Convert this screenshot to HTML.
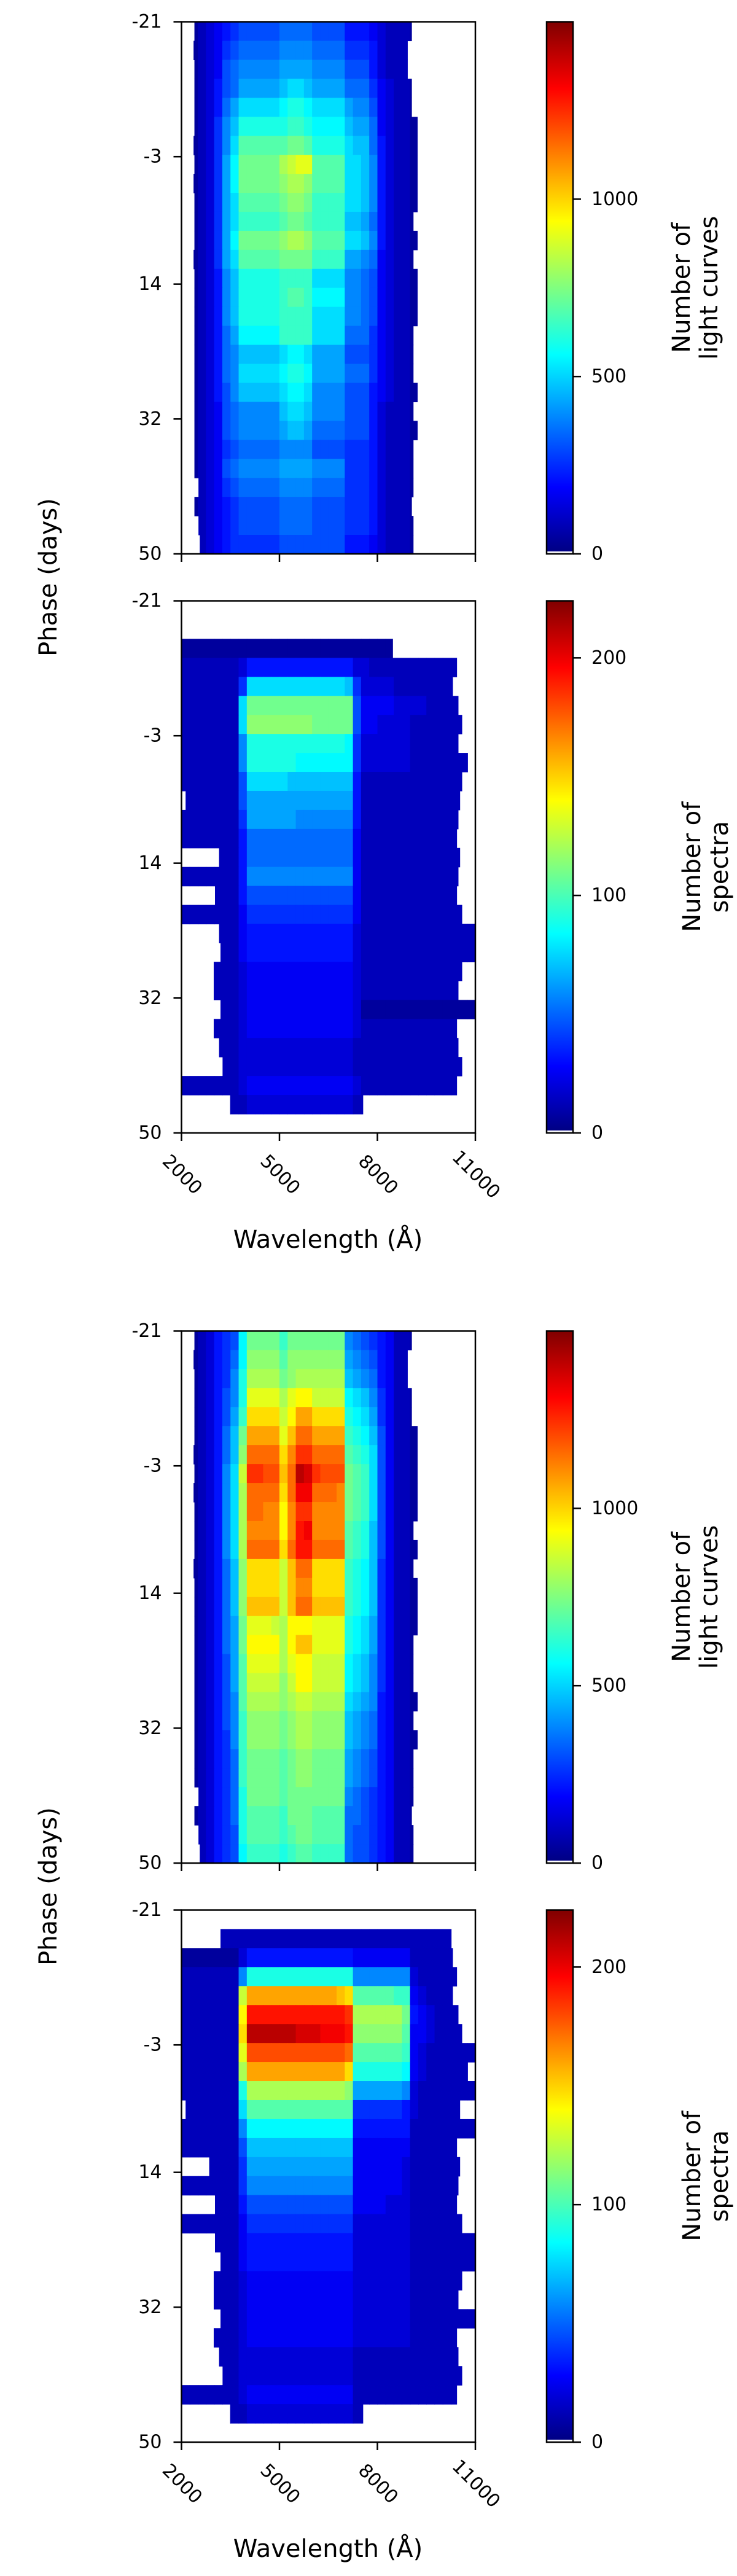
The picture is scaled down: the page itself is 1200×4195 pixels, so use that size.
<!DOCTYPE html>
<html><head><meta charset="utf-8"><style>
html,body{margin:0;padding:0;background:#fff;}
svg{display:block;font-family:"DejaVu Sans","Liberation Sans",sans-serif;}
</style></head><body>
<svg id="fig" width="1200" height="4195" viewBox="0 0 1200 4195" xmlns="http://www.w3.org/2000/svg"></svg>
<script>
// ---------------- DATA ----------------
const phaseTicks = [-21, -3, 14, 32, 50];
const waveTicks = [2000, 5000, 8000, 11000];
const lcCbTicks = [0, 500, 1000];
const spCbTicks = [0, 100, 200];
const lcVmax = 1500;
const spVmax = 224;
const binWidthA = 250; // Å per column
const nRows = 28;
// level codes: base-36 char per 250 Å column starting at 2000 Å; count = level/35*vmax; '.' = empty
// light curves, top figure: [c0-6, c7-11, c12-15, c16-19, c20-23, c24-28]
const lcRowsA = [
[".123456","77777","8888","7777","5554","32221"],
[".123467","88888","9999","8888","6665","32221"],
[".123478","99999","aaaa","9999","7775","32221"],
[".123578","aaaaa","bccb","aaaa","8886","43221"],
[".12358a","ccccc","deed","cccc","a997","43221"],
[".12369b","eeeee","effe","dddd","baa8","43221"],
[".12369c","ggggg","ghhg","eeee","cbb8","53221"],
[".1236ad","hhhhh","jkll","gggg","ccb9","53221"],
[".1236ad","hhhhh","ijji","gggg","ccb9","53221"],
[".1236ac","ggggg","hiih","ffff","ccb9","53221"],
[".1236ac","fffff","ghhg","ffff","bba8","53221"],
[".1236ad","hhhhh","ijji","gggg","ccb9","53221"],
[".1236ac","ggggg","hhhh","ffff","aa98","43221"],
[".12359b","eeeee","ffff","cccc","9987","43221"],
[".12359b","eeeee","fggf","dddd","9987","43221"],
[".12359b","eeeee","ffff","cccc","9987","43221"],
[".12358a","ddddd","ffff","cccc","8886","43221"],
[".123589","bbbbb","cddc","aaaa","7776","43221"],
[".123589","ccccc","deed","aaaa","8886","43221"],
[".123579","bbbbb","cddc","9999","7775","43221"],
[".123478","99999","bccb","9999","7775","32221"],
[".123478","99999","abba","8888","7775","32221"],
[".123467","88888","9999","7777","6665","32221"],
[".123478","99999","aaaa","9999","6665","32221"],
[".123467","88888","9999","8888","6665","32221"],
[".123456","77777","8888","7777","6665","32221"],
[".123456","77777","8888","7777","6665","32221"],
[".123456","66666","7777","7777","5554","32221"]
];
const lcLoA = [2396,2370,2396,2396,2396,2396,2370,2396,2370,2396,2396,2396,2370,2396,2396,2396,2396,2396,2396,2396,2396,2396,2396,2396,2520,2396,2520,2560];
const lcHiA = [9044,8918,8918,9044,9044,9220,9220,9220,9220,9220,9094,9220,9094,9220,9220,9220,9094,9094,9094,9220,9094,9220,9094,9094,9094,9044,9094,9094];

// spectra, top figure: [c0-6, c7, c8-20, c21, c22-35]
const spRowsA = [
[""],
[""],
["1111111","1","1111111111111","1","11111111111111"],
["2222222","3","5555555555555","3","32222222222222"],
["2222222","6","ccccccccccccb","6","33332222222222"],
["2222222","c","hhhhhhhhhhhhh","7","44443333222222"],
["2222222","c","iiiiiiiihhhhh","7","44333322222222"],
["2222222","9","eeeeeeeeeeeed","6","33333322222222"],
["2222222","9","eeeeeeddddddd","6","33333322222222"],
["2222222","7","cccccbbbbbbbb","5","22222222222222"],
["2222222","7","aaaaaaaaaaaaa","5","22222222222222"],
["2222222","6","aaaaaa9999999","5","22222222222222"],
["2222222","5","8888888888888","4","22222222222222"],
["2222222","5","8888888888888","4","22222222222222"],
["2222222","5","9999999999999","4","22222222222222"],
["2222222","5","7777777777777","4","22222222222222"],
["2222222","4","6666666666666","4","22222222222222"],
["2222222","4","5555555555555","3","22222222222222"],
["2222222","4","5555555555555","3","22222222222222"],
["2222222","3","4444444444444","3","22222222222222"],
["2222222","3","4444444444444","3","22222222222222"],
["2222222","3","4444444444444","3","11111111111111"],
["2222222","3","4444444444444","3","22222222222222"],
["2222222","3","3333333333333","2","22222222222222"],
["2222222","3","3333333333333","2","22222222222222"],
["2222222","3","4444444444444","3","22222222222222"],
["2222222","2","3333333333333","2","22222222222222"],
[""]
];
const spLoA = [0,0,2000,2000,2000,2000,2000,2000,2000,2000,2126,2000,2000,3151,2000,3025,2000,3151,3195,2987,2987,3195,2987,3151,3258,2000,3490,0];
const spHiA = [0,0,8465,10427,10301,10471,10585,10471,10761,10585,10522,10471,10427,10522,10471,10427,10585,11000,11000,10585,10471,11000,10427,10471,10585,10427,7553,0];

// light curves, bottom figure: [c0-3, c4-6, c7, c8-11, c12, c13, c14-15, c16-19, c20-23, c24-28]
const lcRowsB = [
[".123","567","d","hhhh","f","h","hh","hhhh","9876","54221"],
[".123","568","d","iiii","g","i","ii","iiii","a987","54221"],
[".123","569","e","jjjj","h","i","jj","jjjj","ba98","54221"],
[".123","579","e","llll","j","l","mm","kkkk","dcb9","64221"],
[".123","57a","f","nnnn","k","m","pp","nnnn","edca","64221"],
[".123","58b","h","pppp","l","o","rr","pppp","fedb","74221"],
[".123","58b","i","rrrr","n","q","tt","rrrr","gfec","74221"],
[".123","59c","k","ttss","o","r","xw","tsss","hgfc","74221"],
[".123","59c","j","rrrr","n","r","vv","rrrq","hgfc","74221"],
[".123","59c","j","rrqq","m","q","tt","qqqq","hgfc","74221"],
[".123","59c","j","qqqq","m","q","uv","qqqq","gfeb","74221"],
[".123","59c","j","rrrr","n","r","uu","rrrr","gfeb","74221"],
[".123","58b","i","nnnn","k","o","rr","nnnn","fedb","64221"],
[".123","58b","i","nnnn","k","o","qq","nnnn","fedb","64221"],
[".123","58b","i","oooo","k","o","rr","oooo","fedb","64221"],
[".123","58a","h","lllk","j","m","mm","llll","edca","64221"],
[".123","58a","h","mmmm","j","m","oo","llll","edca","64221"],
[".123","57a","g","llll","j","l","mm","kkkk","dcb9","64221"],
[".123","57a","g","kkkk","i","k","mm","kkkk","dcb9","64221"],
[".123","579","g","jjjj","i","j","kk","jjjj","cba9","54221"],
[".123","579","f","iiii","h","i","jj","iiii","ba98","54221"],
[".123","569","f","iiii","h","i","jj","iiii","ba98","54221"],
[".123","568","f","hhhh","g","h","ii","hhhh","a987","54221"],
[".123","568","f","hhhh","g","h","ii","hhhh","a987","54221"],
[".123","568","e","hhhh","g","h","hh","hhhh","9876","54221"],
[".123","568","e","gggg","f","h","hh","gggg","8876","54221"],
[".123","567","e","gggg","f","g","hh","gggg","8776","54221"],
[".123","567","d","ffff","e","f","gg","ffff","8776","54221"]
];
const lcLoB = [2396,2370,2396,2396,2396,2396,2370,2396,2370,2396,2396,2396,2370,2396,2396,2396,2396,2396,2396,2396,2396,2396,2396,2396,2520,2396,2520,2560];
const lcHiB = [9044,8918,8918,9044,9044,9220,9220,9220,9220,9220,9094,9220,9094,9220,9220,9220,9094,9094,9094,9220,9094,9220,9094,9094,9094,9044,9094,9094];

// spectra, bottom figure: [c0-6, c7, c8-20, c21-27, c28-35]
const spRowsB = [
[""],
["2222222","2","2222222222222","2222222","22222222"],
["1111111","3","5555555555555","4444444","22222222"],
["2222222","9","eeeeeeeeeeeee","9999999","32222222"],
["2222222","k","pppppppppppon","gggggff","43222222"],
["2222222","m","uuuuuuuuuuuut","jjjjjjh","54322222"],
["2222222","n","xxxxxxwwwvvvu","iiiiiig","44322222"],
["2222222","l","ssssssssssssr","ggggggf","43222222"],
["2222222","j","ppppppppppppn","eeeeeed","43222222"],
["2222222","e","jjjjjjjjjjjji","aaaaaa9","32222222"],
["2222222","c","ggggggggggggg","6666665","32222222"],
["2222222","9","ddddddddddddd","5555555","22222222"],
["2222222","7","bbbbbbbbbbbbb","4444444","22222222"],
["2222222","6","aaaaaaaaaaaaa","4444443","22222222"],
["2222222","6","9999999999999","4444443","22222222"],
["2222222","5","7777777777777","4444333","22222222"],
["2222222","4","6666666666666","3333333","22222222"],
["2222222","4","5555555555555","3333333","22222222"],
["2222222","4","5555555555555","3333333","22222222"],
["2222222","3","4444444444444","3333333","22222222"],
["2222222","3","4444444444444","3333333","22222222"],
["2222222","3","4444444444444","3333333","22222222"],
["2222222","3","4444444444444","3333333","22222222"],
["2222222","3","3333333333333","2222222","22222222"],
["2222222","3","3333333333333","2222222","22222222"],
["2222222","3","4444444444444","2222222","22222222"],
["2222222","2","3333333333333","2222222","22222222"],
[""]
];
const spLoB = [0,3195,2000,2000,2000,2000,2000,2000,2000,2000,2126,2000,2000,2849,2000,3025,2000,3025,3195,2987,2987,3195,2987,3151,3258,2000,3490,0];
const spHiB = [0,10258,10301,10427,10301,10471,10585,11000,10761,11000,10522,11000,10427,10522,10471,10427,10585,11000,11000,10585,10471,11000,10427,10471,10585,10427,7553,0];

// ---------------- RENDER ----------------
const NS = "http://www.w3.org/2000/svg";
const svg = document.getElementById("fig");
const AX_L = 295.5, AX_R = 774, AX_H = 866.5;
const CB_L = 890, CB_R = 933;
const W_MIN = 2000, W_MAX = 11000, P_MIN = -21, P_MAX = 50;
function mk(tag, attrs, parent) {
  const e = document.createElementNS(NS, tag);
  for (const k in attrs) e.setAttribute(k, attrs[k]);
  (parent || svg).appendChild(e);
  return e;
}
function xScale(w) { return AX_L + (w - W_MIN) / (W_MAX - W_MIN) * (AX_R - AX_L); }
function yScale(p, top) { return top + (p - P_MIN) / (P_MAX - P_MIN) * AX_H; }
function clip(v) { return Math.max(0, Math.min(1, v)); }
function jet(f) {
  const r = clip(1.5 - Math.abs(4 * f - 3)), g = clip(1.5 - Math.abs(4 * f - 2)), b = clip(1.5 - Math.abs(4 * f - 1));
  return "rgb(" + Math.round(r * 255) + "," + Math.round(g * 255) + "," + Math.round(b * 255) + ")";
}
function decode(ch, vmax) {
  if (ch === ".") return null;
  const lv = parseInt(ch, 36);
  if (isNaN(lv)) return null;
  return lv / 35 * vmax;
}
function rowString(parts) { return (parts.join("") + "....................................").slice(0, 36); }

function drawPanel(top, rows, lo, hi, vmax, cbTicks, cbLines, cbLabelX, showX, idx) {
  const g = mk("g", {});
  
  
  const binDays = (P_MAX - P_MIN) / nRows;
  rows.forEach((parts, r) => {
    const row = rowString(parts);
    const p0 = P_MIN + r * binDays, p1 = p0 + binDays;
    const y0 = yScale(p0, top), y1 = yScale(p1, top);
    for (let c = 0; c < row.length; c++) {
      const v = decode(row[c], vmax);
      if (v === null) continue;
      let w0 = W_MIN + c * binWidthA, w1 = w0 + binWidthA;
      w0 = Math.max(w0, lo[r]); w1 = Math.min(w1, hi[r]);
      if (w1 <= w0) continue;
      const x0 = xScale(w0), x1 = xScale(w1);
      const rc = mk("rect", {x: x0.toFixed(2), y: y0.toFixed(2), width: (x1 - x0 + 0.6).toFixed(2), height: (y1 - y0 + 0.6).toFixed(2), fill: jet(v / vmax)}, g);
      
      
    }
  });
  const fr = mk("rect", {x: AX_L, y: top, width: AX_R - AX_L, height: AX_H, fill: "none", stroke: "#000", "stroke-width": 2.5});
  
  
  phaseTicks.forEach(t => {
    const y = yScale(t, top);
    mk("line", {x1: AX_L - 13, x2: AX_L, y1: y, y2: y, stroke: "#000", "stroke-width": 2.5});
    const tx = mk("text", {x: AX_L - 32, y: y, "text-anchor": "end", "dominant-baseline": "central", "font-size": 30});
    tx.textContent = String(t);
    
    
  });
  waveTicks.forEach(t => {
    const x = xScale(t);
    mk("line", {x1: x, x2: x, y1: top + AX_H, y2: top + AX_H + 13, stroke: "#000", "stroke-width": 2.5});
    if (showX) {
      const tx = mk("text", {transform: "translate(" + (x + 1) + "," + (top + AX_H + 68) + ") rotate(45)", "text-anchor": "middle", "dominant-baseline": "central", "font-size": 30});
      tx.textContent = String(t);
      
      
    }
  });
  const gid = "jetgrad" + idx;
  const defs = mk("defs", {});
  const lg = mk("linearGradient", {id: gid, x1: 0, y1: 1, x2: 0, y2: 0}, defs);
  for (let i = 0; i <= 40; i++) mk("stop", {offset: (i / 40), "stop-color": jet(i / 40)}, lg);
  const cb = mk("rect", {x: CB_L, y: top, width: CB_R - CB_L, height: AX_H, fill: "url(#" + gid + ")"});
  
  
  mk("rect", {x: CB_L, y: top + AX_H - 4, width: CB_R - CB_L, height: 4, fill: "#fff"});
  mk("rect", {x: CB_L, y: top, width: CB_R - CB_L, height: AX_H, fill: "none", stroke: "#000", "stroke-width": 2.5});
  cbTicks.forEach(t => {
    const y = top + AX_H - t / vmax * AX_H;
    mk("line", {x1: CB_R, x2: CB_R + 13, y1: y, y2: y, stroke: "#000", "stroke-width": 2.5});
    const tx = mk("text", {x: CB_R + 30, y: y, "dominant-baseline": "central", "font-size": 30});
    tx.textContent = String(t);
    
    
  });
  cbLines.forEach((s, i) => {
    const tx = mk("text", {transform: "translate(" + cbLabelX[i] + "," + (top + AX_H / 2) + ") rotate(-90)", "text-anchor": "middle", "font-size": 40});
    tx.textContent = s;
    
    
  });
}

function drawFigure(off, lcRows, lcLo, lcHi, spRows, spLo, spHi, n) {
  drawPanel(35.5 + off, lcRows, lcLo, lcHi, lcVmax, lcCbTicks, ["Number of", "light curves"], [1123, 1168], false, n * 2);
  drawPanel(978.5 + off, spRows, spLo, spHi, spVmax, spCbTicks, ["Number of", "spectra"], [1140, 1185], true, n * 2 + 1);
  const yl = mk("text", {transform: "translate(92," + (940 + off) + ") rotate(-90)", "text-anchor": "middle", "font-size": 40});
  yl.textContent = "Phase (days)";
  
  
  const xl = mk("text", {x: 534, y: 2032 + off, "text-anchor": "middle", "font-size": 40});
  xl.textContent = "Wavelength (Å)";
  
  
}
drawFigure(0, lcRowsA, lcLoA, lcHiA, spRowsA, spLoA, spHiA, 0);
drawFigure(2132, lcRowsB, lcLoB, lcHiB, spRowsB, spLoB, spHiB, 1);
</script>
</body></html>
